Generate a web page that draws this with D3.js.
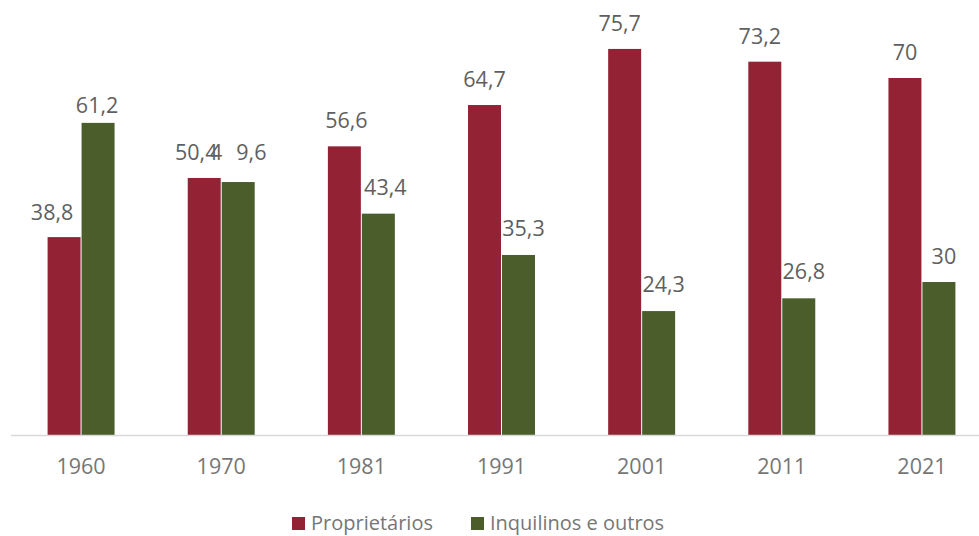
<!DOCTYPE html>
<html>
<head>
<meta charset="utf-8">
<script src="https://cdn.jsdelivr.net/npm/d3@7"></script>
<style>
  body { margin: 0; background: #fff; }
  svg { display: block; font-family: "Open Sans", "Noto Sans", sans-serif; }
</style>
</head>
<body>
<svg id="chart"></svg>
<script>
const years = ["1960", "1970", "1981", "1991", "2001", "2011", "2021"];
const proprietarios = [38.8, 50.4, 56.6, 64.7, 75.7, 73.2, 70];
const inquilinos = [61.2, 49.6, 43.4, 35.3, 24.3, 26.8, 30];
const seriesNames = ["Proprietários", "Inquilinos e outros"];
const seriesColors = ["#932334", "#4B5D2A"];

// label nudges (the labels were dragged by hand in the original)
const labelDx = [[-12, -8, 2, 0, -5, -5, 0], [-1, 0, 7, 5, 5, 5, 5]];
const labelGap = [[17, 18, 18, 18, 18, 18, 18], [10, 22, 19, 19, 19, 19, 18]];

const width = 979, height = 536;
const svg = d3.select("#chart").attr("width", width).attr("height", height);

const x = d3.scaleBand().domain(years).range([11, 992]).paddingInner(0.515).paddingOuter(0.2575);
const x1 = d3.scaleBand().domain([0, 1]).range([0, x.bandwidth()]).padding(0);
const y = d3.scaleLinear().domain([0, 80]).range([435, 27]);

const rows = years.map((yr, i) => ({ year: yr, i: i, vals: [proprietarios[i], inquilinos[i]] }));

const groups = svg.append("g").selectAll("g")
  .data(rows).enter().append("g")
  .attr("transform", d => `translate(${x(d.year)},0)`);

groups.selectAll("rect")
  .data(d => d.vals.map((v, k) => ({ v, k, i: d.i })))
  .enter().append("rect")
  .attr("x", d => x1(d.k) + 0.5)
  .attr("width", x1.bandwidth() - 1)
  .attr("y", d => y(d.v))
  .attr("height", d => y(0) - y(d.v))
  .attr("fill", d => seriesColors[d.k]);

const labels = groups.selectAll("text")
  .data(d => d.vals.map((v, k) => ({ v, k, i: d.i })))
  .enter().append("text")
  .attr("x", d => x1(d.k) + x1.bandwidth() / 2 + labelDx[d.k][d.i])
  .attr("y", d => y(d.v) - labelGap[d.k][d.i])
  .attr("text-anchor", "middle")
  .style("font-size", "21.5px")
  .style("fill", "#5f5f5f");

labels.each(function(d) {
  const s = String(d.v).replace(".", ",");
  const t = d3.select(this);
  if (d.k === 1 && d.i === 1) {
    // this label shows a gap after its first digit in the original
    t.append("tspan").text(s.slice(0, 1));
    t.append("tspan").attr("dx", 14).text(s.slice(1));
  } else {
    t.text(s);
  }
});

// axis
const xAxis = d3.axisBottom(x).tickSize(0).tickPadding(24);
const axisG = svg.append("g").attr("transform", `translate(0,${y(0)})`).call(xAxis);
axisG.select(".domain").remove();
axisG.append("line").attr("x1", 11).attr("x2", 979).attr("y1", 0.5).attr("y2", 0.5)
  .attr("stroke", "#d9d9d9").attr("stroke-width", 1.5);
axisG.selectAll(".tick text").style("font-size", "21.5px").style("fill", "#767676")
  .style("font-family", "'Open Sans', 'Noto Sans', sans-serif");

// legend
const legendX = [292, 471];
const legend = svg.append("g").selectAll("g").data(seriesNames).enter().append("g")
  .attr("transform", (d, i) => `translate(${legendX[i]},517)`);
legend.append("rect").attr("width", 13).attr("height", 13).attr("fill", (d, i) => seriesColors[i]);
legend.append("text").attr("x", 19).attr("y", 13).style("font-size", "20px")
  .style("fill", "#767676").text(d => d);
</script>
</body>
</html>
